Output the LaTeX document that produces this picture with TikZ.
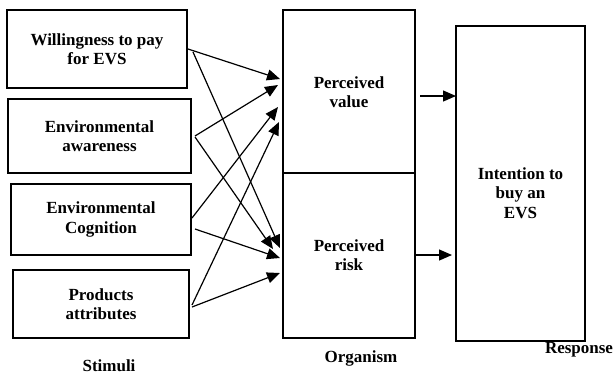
\documentclass[tikz,border=0pt]{standalone}
\usepackage{fontspec}
\setmainfont{Liberation Serif}
\usetikzlibrary{arrows.meta}
\begin{document}
\begin{tikzpicture}[x=1pt,y=-1pt,
  box/.style={draw=black,line width=2pt,rectangle,inner sep=0pt,outer sep=0pt},
  txt/.style={font=\fontsize{17}{19.5}\selectfont\bfseries,align=center,inner sep=0pt},
  arr/.style={line width=1.2pt,-{Triangle[length=13pt,width=11pt]}}]
\useasboundingbox (0,0) rectangle (615,376);
% stimuli
\node[box,txt,minimum width=180pt,minimum height=78pt] (s1) at (97,49) {Willingness to pay\\for EVS};
\node[box,txt,minimum width=183pt,minimum height=74pt] (s2) at (99.5,136) {Environmental\\awareness};
\node[box,txt,minimum width=180pt,minimum height=71pt] (s3) at (101,219.5) {Environmental\\Cognition};
\node[box,txt,minimum width=176pt,minimum height=68pt] (s4) at (101,304) {Products\\attributes};
% organism
\node[box,txt,minimum width=132pt,minimum height=163pt] (pv) at (349,91.5) {};
\node[txt] (pvt) at (349,92) {Perceived\\value};
\node[box,txt,minimum width=132pt,minimum height=165pt] (pr) at (349,255.5) {};
\node[txt] (prt) at (349,255) {Perceived\\risk};
% response
\node[box,minimum width=129pt,minimum height=315pt] (resp) at (520.5,183.5) {};
\node[txt] (respt) at (520.5,193) {Intention to\\buy an\\EVS};
% labels
\node[txt] (lst) at (109,366) {Stimuli};
\node[txt] (lor) at (361,358) {Organism};
\node[txt] (lre) at (579,350) {Response};
% stimuli -> perceived value
\draw[arr] ([xshift=1pt]s1.east) -- ([xshift=-3pt,yshift=12.5pt]pv.west);
\draw[arr] ([xshift=4pt]s2.east) -- ([xshift=-5pt,yshift=6.5pt]pv.west);
\draw[arr] ([xshift=1pt,yshift=1.5pt]s3.east) -- ([xshift=-5pt,yshift=-15.5pt]pv.west);
\draw[arr] ([xshift=3pt,yshift=-1pt]s4.east) -- ([xshift=-4pt,yshift=-30.5pt]pv.west);
% stimuli -> perceived risk
\draw[arr] ([xshift=6pt,yshift=-3pt]s1.east) -- ([xshift=-3pt,yshift=7.5pt]pr.west);
\draw[arr] ([xshift=4pt,yshift=-1pt]s2.east) -- ([xshift=-10pt,yshift=6.5pt]pr.west);
\draw[arr] ([xshift=4pt,yshift=-9.5pt]s3.east) -- ([xshift=-3pt,yshift=-2.5pt]pr.west);
\draw[arr] ([xshift=3pt,yshift=-3pt]s4.east) -- ([xshift=-3pt,yshift=-17.5pt]pr.west);
% organism -> response
\draw[arr] ([xshift=5pt,yshift=-4.5pt]pv.east) -- ([yshift=87.5pt]resp.west);
\draw[arr] ([xshift=1pt,yshift=0.5pt]pr.east) -- ([xshift=-4pt,yshift=-71.5pt]resp.west);
\end{tikzpicture}
\end{document}
